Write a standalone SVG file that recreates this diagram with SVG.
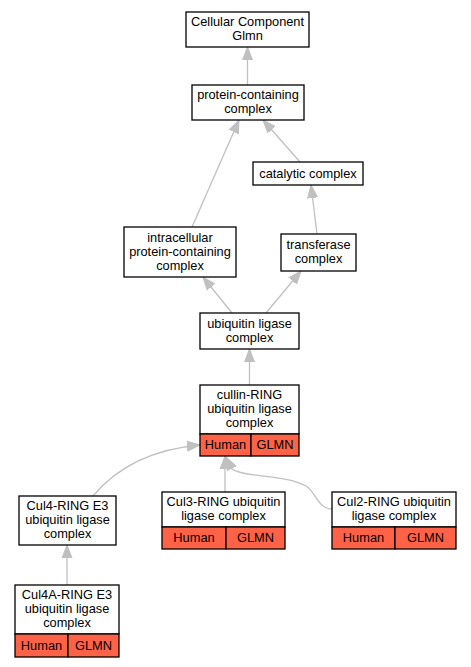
<svg xmlns="http://www.w3.org/2000/svg" width="471" height="667" viewBox="0 0 471 667">
<style>
.box{fill:#ffffff;stroke:#000000;stroke-width:1.3}
.cell{fill:#ff6347;stroke:#000000;stroke-width:1.3}
text{font-family:"Liberation Sans",Arial,sans-serif;font-size:12.8px;fill:#000000;text-anchor:middle}
.edge{fill:none;stroke:#c0c0c0;stroke-width:1.3}
</style>
<defs>
<marker id="arr" markerUnits="userSpaceOnUse" markerWidth="14" markerHeight="12" viewBox="0 0 14 12" refX="13" refY="6" orient="auto">
<path d="M0,1 L13,6 L0,11 z" fill="#c0c0c0" stroke="#c0c0c0"/>
</marker>
</defs>
<rect width="471" height="667" fill="#ffffff"/>
<g id="edges">
<path class="edge" marker-end="url(#arr)" d="M247.5,85 L247.5,47"/>
<path class="edge" marker-end="url(#arr)" d="M192,227 L239,120"/>
<path class="edge" marker-end="url(#arr)" d="M300,162 L263,120"/>
<path class="edge" marker-end="url(#arr)" d="M317,234 L311,185"/>
<path class="edge" marker-end="url(#arr)" d="M232,313 L203,277"/>
<path class="edge" marker-end="url(#arr)" d="M266,313 L301,271"/>
<path class="edge" marker-end="url(#arr)" d="M249.5,385 L249.5,349"/>
<path class="edge" marker-end="url(#arr)" d="M67,585 L67,545"/>
<path class="edge" marker-end="url(#arr)" d="M225,492 L225,456"/>
<path class="edge" marker-end="url(#arr)" d="M93,496 C118,466 155,449 200,445"/>
<path class="edge" marker-end="url(#arr)" d="M332,509 C318,509 316,492 306,486 C285,474 245,478 232,469 L226,457"/>
</g>
<g id="n_cc">
<rect class="box" x="186" y="12" width="123" height="35"/>
<text x="247.5" y="26">Cellular Component</text>
<text x="247.5" y="40">Glmn</text>
</g>
<g id="n_pcc">
<rect class="box" x="192" y="85" width="112" height="35"/>
<text x="248" y="99">protein-containing</text>
<text x="248" y="113">complex</text>
</g>
<g id="n_cat">
<rect class="box" x="253" y="162" width="110" height="23"/>
<text x="308" y="178">catalytic complex</text>
</g>
<g id="n_intra">
<rect class="box" x="124" y="227" width="112" height="50"/>
<text x="180" y="242">intracellular</text>
<text x="180" y="256">protein-containing</text>
<text x="180" y="270">complex</text>
</g>
<g id="n_trans">
<rect class="box" x="281" y="234" width="75" height="37"/>
<text x="318.5" y="249">transferase</text>
<text x="318.5" y="263">complex</text>
</g>
<g id="n_ubi">
<rect class="box" x="200" y="313" width="99" height="36"/>
<text x="249.5" y="328">ubiquitin ligase</text>
<text x="249.5" y="342">complex</text>
</g>
<g id="n_cullin">
<rect class="box" x="200" y="385" width="99" height="49"/>
<text x="249.5" y="399">cullin-RING</text>
<text x="249.5" y="413">ubiquitin ligase</text>
<text x="249.5" y="427">complex</text>
<rect class="cell" x="200" y="434" width="51" height="22"/>
<rect class="cell" x="251" y="434" width="48" height="22"/>
<text x="225.5" y="449">Human</text>
<text x="275" y="449">GLMN</text>
</g>
<g id="n_cul4">
<rect class="box" x="19" y="496" width="97" height="49"/>
<text x="67.5" y="510">Cul4-RING E3</text>
<text x="67.5" y="524">ubiquitin ligase</text>
<text x="67.5" y="538">complex</text>
</g>
<g id="n_cul4a">
<rect class="box" x="15" y="585" width="104" height="49"/>
<text x="67" y="599">Cul4A-RING E3</text>
<text x="67" y="613">ubiquitin ligase</text>
<text x="67" y="627">complex</text>
<rect class="cell" x="15" y="634" width="53" height="23"/>
<rect class="cell" x="68" y="634" width="51" height="23"/>
<text x="41.5" y="650">Human</text>
<text x="93.5" y="650">GLMN</text>
</g>
<g id="n_cul3">
<rect class="box" x="162" y="492" width="123" height="35"/>
<text x="223.5" y="506">Cul3-RING ubiquitin</text>
<text x="223.5" y="520">ligase complex</text>
<rect class="cell" x="162" y="527" width="64" height="22"/>
<rect class="cell" x="226" y="527" width="59" height="22"/>
<text x="194" y="542">Human</text>
<text x="255.5" y="542">GLMN</text>
</g>
<g id="n_cul2">
<rect class="box" x="332" y="492" width="124" height="35"/>
<text x="394" y="506">Cul2-RING ubiquitin</text>
<text x="394" y="520">ligase complex</text>
<rect class="cell" x="332" y="527" width="63" height="22"/>
<rect class="cell" x="395" y="527" width="61" height="22"/>
<text x="363.5" y="542">Human</text>
<text x="425.5" y="542">GLMN</text>
</g>
</svg>
